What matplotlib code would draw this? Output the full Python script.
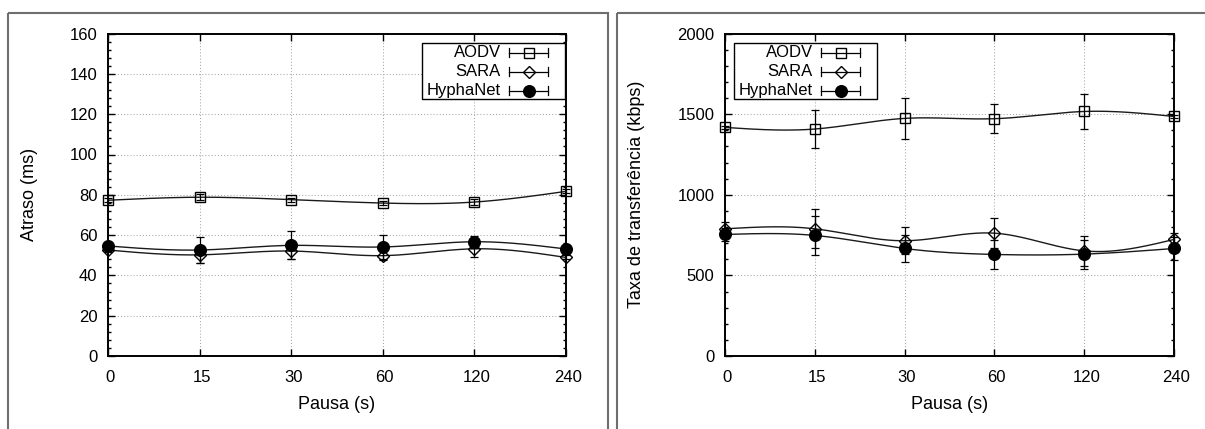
import numpy as np
import matplotlib
matplotlib.use("Agg")
import matplotlib.pyplot as plt
import matplotlib.transforms as mtransforms
from matplotlib.patches import Rectangle
from matplotlib.lines import Line2D

plt.rcParams['font.family'] = ['Liberation Sans', 'DejaVu Sans']

# ---- data -----------------------------------------------------------------
pause_labels = ["0", "15", "30", "60", "120", "240"]
series_names = ["AODV", "SARA", "HyphaNet"]

# Delay (ms)
delay_aodv = [77.3, 78.8, 77.6, 75.9, 76.4, 81.7]
delay_aodv_err = [1.0, 1.5, 1.0, 1.0, 1.5, 1.0]
delay_sara = [52.6, 50.2, 52.1, 49.8, 53.2, 48.9]
delay_sara_err = [1.0, 3.9, 3.8, 2.2, 3.9, 1.0]
delay_hypha = [54.6, 52.6, 54.9, 54.1, 56.7, 53.1]
delay_hypha_err = [1.0, 6.3, 7.0, 5.8, 3.0, 1.0]

# Throughput (kbps)
thr_aodv = [1418, 1408, 1474, 1472, 1517, 1486]
thr_aodv_err = [10, 120, 128, 89, 107, 10]
thr_sara = [789, 789, 715, 762, 652, 723]
thr_sara_err = [40, 120, 85, 94, 92, 40]
thr_hypha = [754, 748, 667, 630, 632, 667]
thr_hypha_err = [40, 120, 83, 89, 90, 70]

# ---- helpers --------------------------------------------------------------
def natural_spline(x, y, n=300):
    """Natural cubic spline through (x, y), like gnuplot's 'smooth csplines'."""
    x = np.asarray(x, float)
    y = np.asarray(y, float)
    k = len(x)
    h = np.diff(x)
    A = np.zeros((k, k))
    b = np.zeros(k)
    A[0, 0] = A[-1, -1] = 1.0
    for i in range(1, k - 1):
        A[i, i - 1] = h[i - 1]
        A[i, i] = 2 * (h[i - 1] + h[i])
        A[i, i + 1] = h[i]
        b[i] = 6 * ((y[i + 1] - y[i]) / h[i] - (y[i] - y[i - 1]) / h[i - 1])
    M = np.linalg.solve(A, b)
    xs = np.linspace(x[0], x[-1], n)
    idx = np.clip(np.searchsorted(x, xs) - 1, 0, k - 2)
    x0, x1 = x[idx], x[idx + 1]
    hh = x1 - x0
    t0 = x1 - xs
    t1 = xs - x0
    ys = (M[idx] * t0 ** 3 / (6 * hh) + M[idx + 1] * t1 ** 3 / (6 * hh)
          + (y[idx] / hh - M[idx] * hh / 6) * t0
          + (y[idx + 1] / hh - M[idx + 1] * hh / 6) * t1)
    return xs, ys


W, H = 1205, 429
fig = plt.figure(figsize=(W / 100, H / 100), dpi=100)
# pixel coordinates measured from the top-left corner of the figure
PX = mtransforms.Affine2D().scale(1 / W, -1 / H).translate(0, 1) + fig.transFigure

# panel frames
for (x0, x1) in [(8, 608), (617, 1215)]:
    fig.add_artist(Rectangle((x0, 13), x1 - x0, 430, transform=PX, fill=False,
                             edgecolor='#6e6e6e', lw=1.5, clip_on=False))

MARKERS = [dict(marker='s', ms=7.6, mfc='none'),
           dict(marker='D', ms=6.6, mfc='none'),
           dict(marker='o', ms=8.4, mfc='black')]
LINE_COLOR = '#1a1a1a'
TICK_FS = 12
LABEL_FS = 13

def style_axes(ax, ymax, ymajor, yminor, ylabel, label_x):
    x = np.arange(len(pause_labels))
    ax.set_xlim(0, len(pause_labels) - 1)
    ax.set_ylim(0, ymax)
    ax.set_xticks(x)
    ax.set_xticklabels(pause_labels)
    ax.set_yticks(np.arange(0, ymax + 1, ymajor))
    ax.set_yticks(np.arange(0, ymax + 1, yminor), minor=True)
    ax.tick_params(which='both', direction='in', top=True, right=True,
                   width=1.0, colors='black', labelsize=TICK_FS)
    ax.tick_params(which='major', length=5)
    ax.tick_params(which='minor', length=2.5)
    ax.tick_params(axis='x', which='minor', bottom=False, top=False)
    ax.tick_params(axis='x', pad=10.0)
    ax.tick_params(axis='y', pad=7.5)
    for lab in ax.get_xticklabels():
        lab.set_transform(lab.get_transform() +
                          mtransforms.ScaledTranslation(2 / 100, 0, fig.dpi_scale_trans))
    for s in ax.spines.values():
        s.set_linewidth(1.4)
    ax.grid(True, which='major', color='#a8a8a8', lw=0.75, ls=(0, (1, 2)))
    ax.set_axisbelow(True)
    ax.set_xlabel("Pausa (s)", fontsize=LABEL_FS, labelpad=8)
    ax.set_ylabel(ylabel, fontsize=LABEL_FS)
    ax.yaxis.set_label_coords(label_x, 0.5)


def draw_series(ax, values, errors):
    x = np.arange(len(pause_labels))
    for vals, errs, mk in zip(values, errors, MARKERS):
        xs, ys = natural_spline(x, vals)
        ax.plot(xs, ys, color=LINE_COLOR, lw=1.0, clip_on=False, zorder=3)
        ax.errorbar(x, vals, yerr=errs, fmt='none', ecolor='black', elinewidth=0.9,
                    capsize=3.2, capthick=0.9, clip_on=False, zorder=4)
        ax.plot(x, vals, ls='none', mec='black', mew=1.0, clip_on=False,
                zorder=5, **mk)


def draw_key(box_left, box_top, box_w=143, box_h=56):
    fig.add_artist(Rectangle((box_left, box_top), box_w, box_h, transform=PX,
                             fill=True, facecolor='white', edgecolor='black',
                             lw=1.0, clip_on=False, zorder=10))
    for i, (name, mk) in enumerate(zip(series_names, MARKERS)):
        yc = box_top + 10 + 19 * i
        fig.text(box_left + 79, yc, name, transform=PX, ha='right', va='center',
                 fontsize=TICK_FS, zorder=11)
        xa, xb = box_left + 87, box_left + 126
        fig.add_artist(Line2D([xa, xb], [yc, yc], transform=PX, color='black',
                              lw=0.9, zorder=11))
        for xe in (xa, xb):
            fig.add_artist(Line2D([xe, xe], [yc - 4.5, yc + 4.5], transform=PX,
                                  color='black', lw=0.9, zorder=11))
        fig.add_artist(Line2D([box_left + 106.5], [yc], transform=PX, ls='none',
                              mec='black', mew=1.0, zorder=12, **mk))


axL = fig.add_axes([108 / W, (H - 356) / H, 458 / W, 322.4 / H])
axR = fig.add_axes([725 / W, (H - 356) / H, 449 / W, 322.4 / H])

style_axes(axL, 160, 20, 4, "Atraso (ms)", (38 - 108) / 458)
style_axes(axR, 2000, 500, 100, "Taxa de transferência (kbps)", (645 - 725) / 449)

draw_series(axL, [delay_aodv, delay_sara, delay_hypha],
            [delay_aodv_err, delay_sara_err, delay_hypha_err])
draw_series(axR, [thr_aodv, thr_sara, thr_hypha],
            [thr_aodv_err, thr_sara_err, thr_hypha_err])

draw_key(422, 42.5)
draw_key(734, 42.5)

fig.savefig("out.png", dpi=100)
